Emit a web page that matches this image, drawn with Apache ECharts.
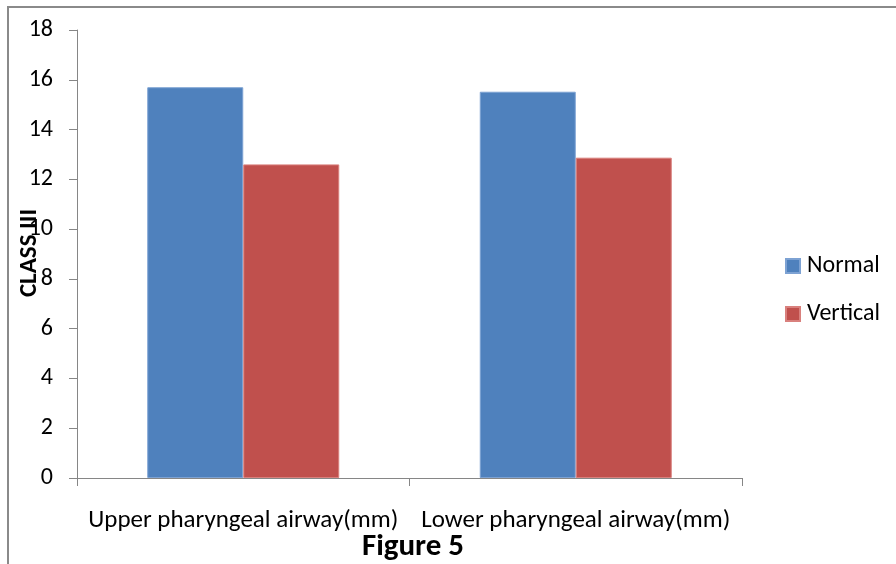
<!DOCTYPE html>
<html><head><meta charset="utf-8">
<script src="https://cdn.jsdelivr.net/npm/echarts@6/dist/echarts.min.js"></script>
<style>html,body{margin:0;padding:0;background:#fff}#c{width:896px;height:564px}</style>
</head><body><div id="c"></div>
<script>
const categories = ['Upper pharyngeal airway(mm)', 'Lower pharyngeal airway(mm)'];
const normalValues = [15.7, 15.52];
const verticalValues = [12.6, 12.87];
const seriesNames = ['Normal', 'Vertical'];
const yTicks = { min: 0, max: 18, interval: 2 };

const font = 'Carlito, Calibri, "Open Sans", "Liberation Sans", sans-serif';
const chart = echarts.init(document.getElementById('c'), null, { renderer: 'canvas' });
chart.setOption({
  animation: false,
  backgroundColor: '#fff',
  textStyle: { fontFamily: font },
  graphic: [
    { type: 'rect', shape: { x: 8, y: 7, width: 1000, height: 700 }, style: { fill: 'none', stroke: '#8a8a8a', lineWidth: 2 } },
    { type: 'text', style: { text: 'Figure 5', x: 413, y: 547, fontSize: 31, fontWeight: 'bold', fontFamily: font, fill: '#000', align: 'center', verticalAlign: 'middle' } },
    { type: 'text', rotation: Math.PI / 2, x: 30, y: 253, style: { text: 'CLASS III', x: 0, y: 0, fontSize: 25, fontWeight: 'bold', fontFamily: font, fill: '#000', align: 'center', verticalAlign: 'middle' } }
  ],
  grid: { left: 77, right: 154, top: 30, bottom: 86, containLabel: false },
  legend: {
    orient: 'vertical', left: 780, top: 249, itemWidth: 14, itemHeight: 14, itemGap: 24,
    icon: 'rect',
    textStyle: { fontSize: 24, color: '#000', fontFamily: font, padding: [0, 0, 0, 2] },
    data: seriesNames
  },
  xAxis: {
    type: 'category', data: categories,
    axisLine: { lineStyle: { color: '#868686' } },
    axisTick: { show: true, length: 8, lineStyle: { color: '#868686' } },
    axisLabel: { interval: 0, fontSize: 25, color: '#000', margin: 30, fontFamily: font }
  },
  yAxis: {
    type: 'value', min: yTicks.min, max: yTicks.max, interval: yTicks.interval,
    splitLine: { show: false },
    axisLine: { show: true, lineStyle: { color: '#868686' } },
    axisTick: { show: true, length: 8, inside: false, lineStyle: { color: '#868686' } },
    axisLabel: { fontSize: 24, color: '#000', margin: 24, fontFamily: font }
  },
  series: [
    { name: seriesNames[0], type: 'bar', data: normalValues, barWidth: 96, barGap: '0%',
      itemStyle: { color: '#4F81BD', borderColor: '#7da2d3', borderWidth: 1 } },
    { name: seriesNames[1], type: 'bar', data: verticalValues, barWidth: 96, barGap: '0%',
      itemStyle: { color: '#C0504D', borderColor: '#d9807d', borderWidth: 1 } }
  ]
});
</script></body></html>
